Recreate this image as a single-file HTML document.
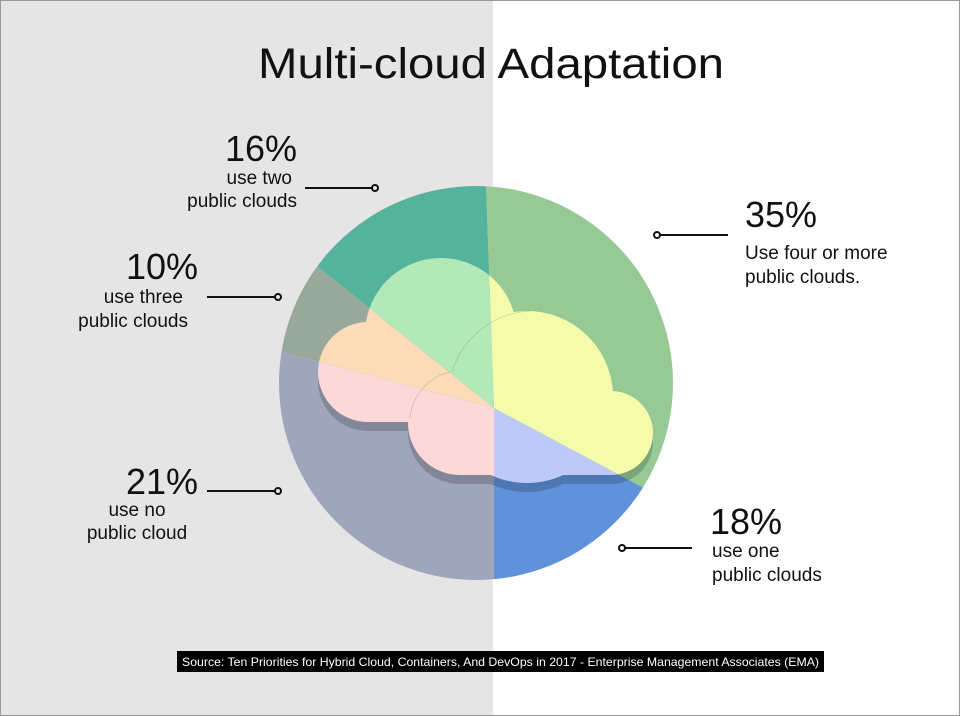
<!DOCTYPE html>
<html><head><meta charset="utf-8"><style>
html,body{margin:0;padding:0;}
body{width:960px;height:716px;overflow:hidden;}
svg{display:block;font-family:"Liberation Sans",sans-serif;}
</style></head><body>
<svg width="960" height="716" viewBox="0 0 960 716" xmlns="http://www.w3.org/2000/svg">
<defs>
<clipPath id="pie"><circle cx="476" cy="383" r="197"/></clipPath>
<clipPath id="cl">
  <circle cx="441" cy="334" r="76"/>
  <circle cx="368" cy="372" r="50"/>
  <rect x="368" y="322" width="120" height="100"/>
  <circle cx="527" cy="397" r="86"/>
  <circle cx="460" cy="423" r="52"/>
  <circle cx="611" cy="433" r="42"/>
  <rect x="460" y="398" width="151" height="77"/>
</clipPath>
</defs>
<rect x="0" y="0" width="493" height="716" fill="#e5e5e5"/>
<rect x="493" y="0" width="467" height="716" fill="#ffffff"/>
<rect x="0.5" y="0.5" width="959" height="715" fill="none" stroke="#999" stroke-width="1"/>
<text x="491" y="78" font-size="43" text-anchor="middle" fill="#111" textLength="466" lengthAdjust="spacingAndGlyphs">Multi-cloud Adaptation</text>

<g clip-path="url(#pie)">
  <polygon points="494,408 483,100 260,200 318,267" fill="#55b39b"/>
  <polygon points="494,408 318,267 200,230 200,370 282,352" fill="#98a89a"/>
  <polygon points="494,408 282,352 200,370 200,700 494,700" fill="#9fa6bc"/>
  <polygon points="494,408 494,700 760,700 760,550 642,487" fill="#6092dc"/>
  <polygon points="494,408 642,487 760,550 760,100 483,100" fill="#97c995"/>
</g>
<g clip-path="url(#pie)">
  <g transform="translate(0,9)" opacity="0.18">
    <g clip-path="url(#cl)"><rect x="250" y="250" width="450" height="260" fill="#000"/></g>
  </g>
</g>
<g clip-path="url(#cl)">
  <polygon points="494,408 483,100 260,200 318,267" fill="#b3e8b8"/>
  <polygon points="494,408 318,267 200,230 200,370 282,352" fill="#fcdcb8"/>
  <polygon points="494,408 282,352 200,370 200,700 494,700" fill="#fcd8d8"/>
  <polygon points="494,408 494,700 760,700 760,550 642,487" fill="#bfc9f8"/>
  <polygon points="494,408 642,487 760,550 760,100 483,100" fill="#f4fcac"/>
</g>
<path d="M452,372 A86,86 0 0 1 530,311" fill="none" stroke="#7a8a60" stroke-width="0.8" opacity="0.35"/>
<path d="M410,418 A52,52 0 0 1 450,372" fill="none" stroke="#907060" stroke-width="0.8" opacity="0.35"/>

<g stroke="#111" stroke-width="2" fill="none">
  <line x1="305" y1="188" x2="372" y2="188"/><circle cx="375" cy="188" r="3"/>
  <line x1="207" y1="297" x2="275" y2="297"/><circle cx="278" cy="297" r="3"/>
  <line x1="207" y1="491" x2="275" y2="491"/><circle cx="278" cy="491" r="3"/>
  <line x1="660" y1="235" x2="728" y2="235"/><circle cx="657" cy="235" r="3"/>
  <line x1="625" y1="548" x2="692" y2="548"/><circle cx="622" cy="548" r="3"/>
</g>
<g fill="#111">
  <text x="297" y="161" font-size="36" text-anchor="end">16%</text>
  <text x="292" y="184" font-size="19" text-anchor="end">use two</text>
  <text x="297" y="207" font-size="19" text-anchor="end">public clouds</text>
  <text x="198" y="279" font-size="36" text-anchor="end">10%</text>
  <text x="183" y="303" font-size="19" text-anchor="end">use three</text>
  <text x="188" y="327" font-size="19" text-anchor="end">public clouds</text>
  <text x="198" y="494" font-size="36" text-anchor="end">21%</text>
  <text x="137" y="516" font-size="19" text-anchor="middle">use no</text>
  <text x="137" y="539" font-size="19" text-anchor="middle">public cloud</text>
  <text x="745" y="227" font-size="36">35%</text>
  <text x="745" y="259" font-size="19">Use four or more</text>
  <text x="745" y="283" font-size="19">public clouds.</text>
  <text x="710" y="534" font-size="36">18%</text>
  <text x="712" y="557" font-size="19">use one</text>
  <text x="712" y="581" font-size="19">public clouds</text>
</g>
<rect x="177" y="651" width="647" height="21" fill="#000"/>
<text x="182" y="666" font-size="12" fill="#fff" textLength="637" lengthAdjust="spacingAndGlyphs">Source: Ten Priorities for Hybrid Cloud, Containers, And DevOps in 2017 - Enterprise Management Associates (EMA)</text>
</svg>
</body></html>
